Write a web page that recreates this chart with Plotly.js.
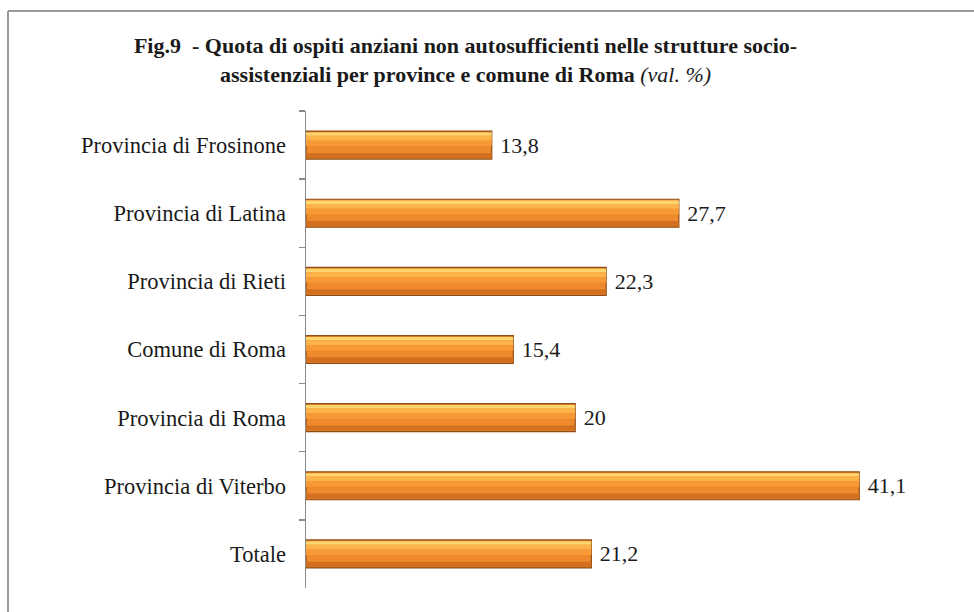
<!DOCTYPE html>
<html>
<head>
<meta charset="utf-8">
<script src="https://cdn.plot.ly/plotly-3.0.1.min.js"></script>
<style>
html,body{margin:0;padding:0;background:#fff;}
#chart{width:974px;height:612px;}
</style>
</head>
<body>
<div id="chart"></div>
<script>
const categories = ["Provincia di Frosinone","Provincia di Latina","Provincia di Rieti","Comune di Roma","Provincia di Roma","Provincia di Viterbo","Totale"];
const values = [13.8, 27.7, 22.3, 15.4, 20, 41.1, 21.2];
const valueLabels = values.map(v => '\u00a0' + String(v).replace('.', ','));

const serif = "Liberation Serif, Times New Roman, serif";
const H = 0.41; // bar thickness in category units

function band(offset, width, color) {
  return {
    type: 'bar', orientation: 'h', x: values, y: categories,
    offset: offset, width: width,
    marker: {color: color, line: {width: 0}},
    hoverinfo: 'skip', showlegend: false
  };
}

const base = {
  type: 'bar', orientation: 'h', x: values, y: categories,
  offset: -H/2, width: H,
  marker: {color: '#EE8A2C', line: {color: '#8E4C16', width: 1.2}},
  text: valueLabels, textposition: 'outside', cliponaxis: false,
  textfont: {family: serif, size: 22, color: '#1a1a1a'},
  hoverinfo: 'skip', showlegend: false
};

const traces = [
  base,
  band(-H/2 + 0.02, 0.05, '#FDD56E'),
  band(-H/2 + 0.07, 0.07, '#FBB34A'),
  band(-H/2 + 0.14, 0.08, '#F79A36'),
  band(H/2 - 0.09, 0.075, '#D2701F')
];

const layout = {
  width: 974, height: 612,
  paper_bgcolor: '#ffffff', plot_bgcolor: '#ffffff',
  margin: {l: 306, r: 34, t: 111, b: 24},
  barmode: 'overlay',
  showlegend: false,
  font: {family: serif, color: '#1a1a1a'},
  title: {
    text: "<b>Fig.9  - Quota di ospiti anziani non autosufficienti nelle strutture socio-</b><br><b>assistenziali per province e comune di Roma</b> <i>(val. %)</i>",
    font: {family: serif, size: 22, color: '#1a1a1a'},
    xref: 'container', x: 0.478, xanchor: 'center',
    yref: 'container', y: 0.913, yanchor: 'top'
  },
  xaxis: {
    range: [0, 47.1], visible: false, showgrid: false, zeroline: false, fixedrange: true
  },
  yaxis: {
    type: 'category', autorange: 'reversed',
    showline: true, linecolor: '#8a8a8a', linewidth: 1.5,
    ticks: 'outside', tickson: 'boundaries', ticklen: 6, tickcolor: '#8a8a8a', tickwidth: 1.5,
    showgrid: false, zeroline: false,
    tickfont: {family: serif, size: 22.5, color: '#1a1a1a'},
    ticklabelstandoff: 14, fixedrange: true
  },
  shapes: [
    {type: 'line', xref: 'paper', yref: 'paper',
     x0: (8 - 306) / 634, x1: (980 - 306) / 634,
     y0: 1 + (111 - 11) / 477, y1: 1 + (111 - 11) / 477,
     line: {color: '#9a9a9a', width: 2}},
    {type: 'line', xref: 'paper', yref: 'paper',
     x0: (8 - 306) / 634, x1: (8 - 306) / 634,
     y0: 1 + (111 - 11) / 477, y1: -30 / 477,
     line: {color: '#9a9a9a', width: 2}}
  ]
};

Plotly.newPlot('chart', traces, layout, {displayModeBar: false, staticPlot: true});
</script>
</body>
</html>
